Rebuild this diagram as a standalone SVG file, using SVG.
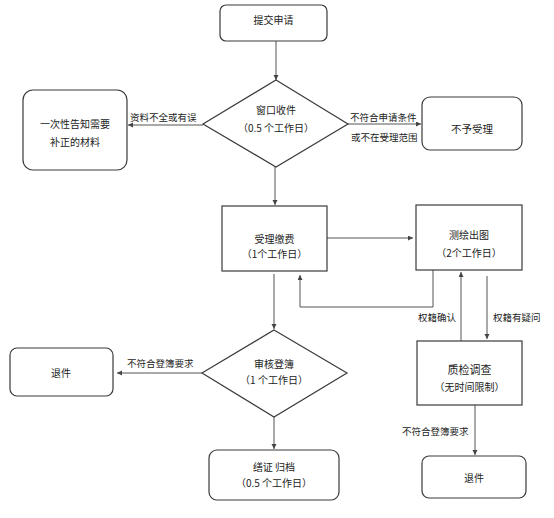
<svg xmlns="http://www.w3.org/2000/svg" width="554" height="518" viewBox="0 0 554 518">
<style>
.box{fill:#fff;stroke:#3a3a3a;stroke-width:1.2}
.t{font-family:"Noto Sans CJK SC","Liberation Sans",sans-serif;font-size:10px;fill:#222;text-anchor:middle;dominant-baseline:central}
.l{font-family:"Noto Sans CJK SC","Liberation Sans",sans-serif;font-size:9.5px;fill:#222;dominant-baseline:central}
.c{fill:none;stroke:#555;stroke-width:1}
</style>
<defs>
<marker id="a" markerUnits="userSpaceOnUse" markerWidth="6" markerHeight="6" refX="5" refY="2.5" orient="auto">
<path d="M0,0 L5,2.5 L0,5 z" fill="#444"/>
</marker>
</defs>
<rect width="554" height="518" fill="#fff"/>
<g id="connectors">
<path class="c" d="M276,41 V80" marker-end="url(#a)"/>
<path class="c" d="M203,125 H128" marker-end="url(#a)"/>
<path class="c" d="M348,124 H421" marker-end="url(#a)"/>
<path class="c" d="M275,167 V205" marker-end="url(#a)"/>
<path class="c" d="M327,238 H413" marker-end="url(#a)"/>
<path class="c" d="M274,274 V329" marker-end="url(#a)"/>
<path class="c" d="M433,270 V307 H300 V275" marker-end="url(#a)"/>
<path class="c" d="M461,341 V272" marker-end="url(#a)"/>
<path class="c" d="M487,276 V339" marker-end="url(#a)"/>
<path class="c" d="M202,373 H117" marker-end="url(#a)"/>
<path class="c" d="M274,417 V449" marker-end="url(#a)"/>
<path class="c" d="M475,405 V455" marker-end="url(#a)"/>
<text class="l" x="130" y="117">资料不全或有误</text>
<text class="l" x="350" y="117">不符合申请条件</text>
<text class="l" x="351" y="137">或不在受理范围</text>
<text class="l" x="418" y="317">权籍确认</text>
<text class="l" x="493" y="317">权籍有疑问</text>
<text class="l" x="127" y="363">不符合登簿要求</text>
<text class="l" x="402" y="431">不符合登簿要求</text>
</g>
<g id="submit">
<rect class="box" x="220" y="5" width="107" height="36" rx="6"/>
<text class="t" x="273.5" y="19">提交申请</text>
</g>
<g id="window">
<polygon class="box" points="276,80 348,124 276,167 203,124"/>
<text class="t" x="276" y="109.5">窗口收件</text>
<text class="t" x="276" y="127.5">（0.5 个工作日）</text>
</g>
<g id="notify">
<rect class="box" x="23" y="90" width="104" height="80" rx="10"/>
<text class="t" x="75" y="123">一次性告知需要</text>
<text class="t" x="75" y="141">补正的材料</text>
</g>
<g id="reject">
<rect class="box" x="422" y="97" width="100" height="53" rx="8"/>
<text class="t" x="472" y="128" style="font-size:10.5px">不予受理</text>
</g>
<g id="accept">
<rect class="box" x="222" y="206" width="105" height="65"/>
<text class="t" x="274.5" y="238">受理缴费</text>
<text class="t" x="274.5" y="253">（1个工作日）</text>
</g>
<g id="survey">
<rect class="box" x="416" y="205" width="106" height="65"/>
<text class="t" x="469" y="234">测绘出图</text>
<text class="t" x="469" y="252">（2个工作日）</text>
</g>
<g id="inspect">
<rect class="box" x="417" y="341" width="105" height="64"/>
<text class="t" x="469.5" y="369" style="font-size:11px">质检调查</text>
<text class="t" x="469.5" y="386">（无时间限制）</text>
</g>
<g id="return2">
<rect class="box" x="422" y="456" width="104" height="42" rx="7"/>
<text class="t" x="474" y="477">退件</text>
</g>
<g id="review">
<polygon class="box" points="274,330 347,373 274,417 202,373"/>
<text class="t" x="274" y="363">审核登簿</text>
<text class="t" x="274" y="379">（1 个工作日）</text>
</g>
<g id="return1">
<rect class="box" x="10" y="348" width="103" height="48" rx="7"/>
<text class="t" x="61" y="372">退件</text>
</g>
<g id="archive">
<rect class="box" x="209" y="450" width="130" height="50" rx="8"/>
<text class="t" x="274" y="466.5">缮证  归档</text>
<text class="t" x="274" y="482">（0.5 个工作日）</text>
</g>
</svg>
